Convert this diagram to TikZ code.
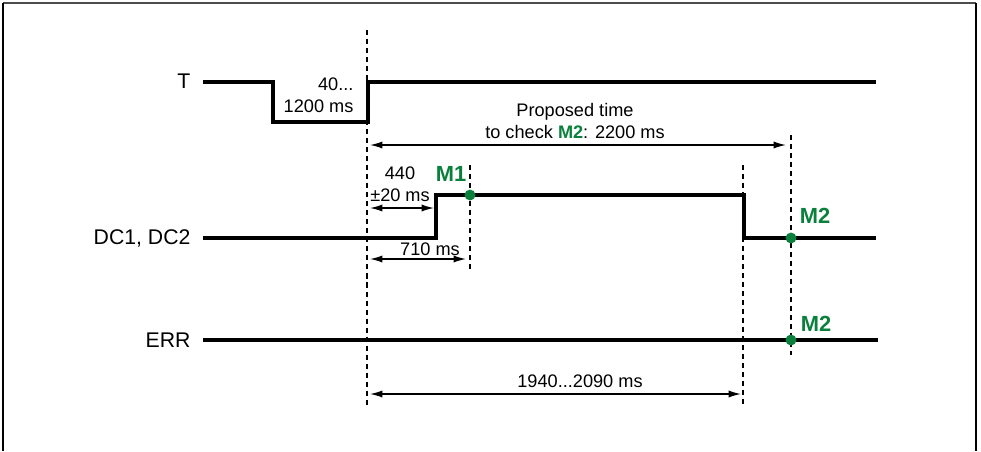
\documentclass[tikz,border=0pt]{standalone}
\usepackage{fontspec}
\setmainfont{Liberation Sans}
\usepackage{xcolor}
\usetikzlibrary{arrows.meta, positioning}

\definecolor{mgreen}{RGB}{10,128,60}
\tikzset{
    sig/.style={line width=3.2pt},
    guide/.style={line width=1.5pt, dash pattern=on 3.8pt off 3pt},
    dim/.style={<->, line width=1pt},
    lbl/.style={font=\fontsize{13.7}{16.5}\selectfont, inner sep=1pt},
    sname/.style={font=\fontsize{16}{19}\selectfont, inner sep=1pt, anchor=east},
    mlbl/.style={font=\fontsize{16.5}{19}\selectfont\bfseries, text=mgreen, inner sep=1pt},
    mdot/.style={circle, fill=mgreen, inner sep=0pt, minimum size=0.29cm}
}

\begin{document}
\begin{tikzpicture}[>={Latex[length=3.3mm,width=1.9mm]}, x=0.0265cm, y=-0.0265cm]
    \useasboundingbox (0,0) rectangle (981,451);
    % Khung
    \draw[line width=1.6pt, black!70] (3,3) -- (976,3);
    \draw[line width=1.4pt] (3,3) -- (3,451);
    \draw[line width=1.4pt] (976,3) -- (976,451);

    % Tên tín hiệu
    \node[sname] (lT) at (192,81) {T};
    \node[sname] (lDC) at (192,238) {DC1, DC2};
    \node[sname] (lERR) at (192,340) {ERR};

    % Tín hiệu
    \draw[sig] (203,82) -- (273,82) -- (273,122) -- (368,122) -- (368,82) -- (876,82);
    \draw[sig] (203,238) -- (436,238) -- (436,195) -- (744,195) -- (744,238) -- (876,238);
    \draw[sig] (203,340) -- (878,340);

    % Đường gióng
    \draw[guide] (367,30) -- (367,408);
    \draw[guide] (470,165) -- (470,272);
    \draw[guide] (743,165) -- (743,408);
    \draw[guide] (791,135) -- (791,355);

    % Điểm kiểm tra
    \node[mdot] (d1) at (470,195) {};
    \node[mdot] (d2) at (791,238) {};
    \node[mdot] (d3) at (791,340) {};
    \node[mlbl] (m1) at (451,174) {M1};
    \node[mlbl] (m2a) at (815,216) {M2};
    \node[mlbl] (m2b) at (816,324) {M2};

    % Khoảng thời gian
    \coordinate (pa) at (370,145);
    \coordinate (pb) at (786,145);
    \draw[dim] (pa) -- (pb);
    \coordinate (qa) at (370,208);
    \coordinate (qb) at (434,208);
    \draw[dim] (qa) -- (qb);
    \coordinate (ra) at (370,259);
    \coordinate (rb) at (466,259);
    \draw[dim] (ra) -- (rb);
    \coordinate (sa) at (370,394);
    \coordinate (sb) at (741,394);
    \draw[dim] (sa) -- (sb);

    % Nhãn thời gian
    \node[lbl, align=right, anchor=east] (tT) at (355,95) {40...\\1200 ms};
    \node[lbl, align=center] (tP) at (575,121) {Proposed time\\to check \textcolor{mgreen}{\bfseries M2}: 2200 ms};
    \node[lbl, align=center] (t440) at (400,184) {440\\±20 ms};
    \node[lbl] (t710) at (430,249) {710 ms};
    \node[lbl] (tE) at (580,381) {1940...2090 ms};
\end{tikzpicture}
\end{document}
